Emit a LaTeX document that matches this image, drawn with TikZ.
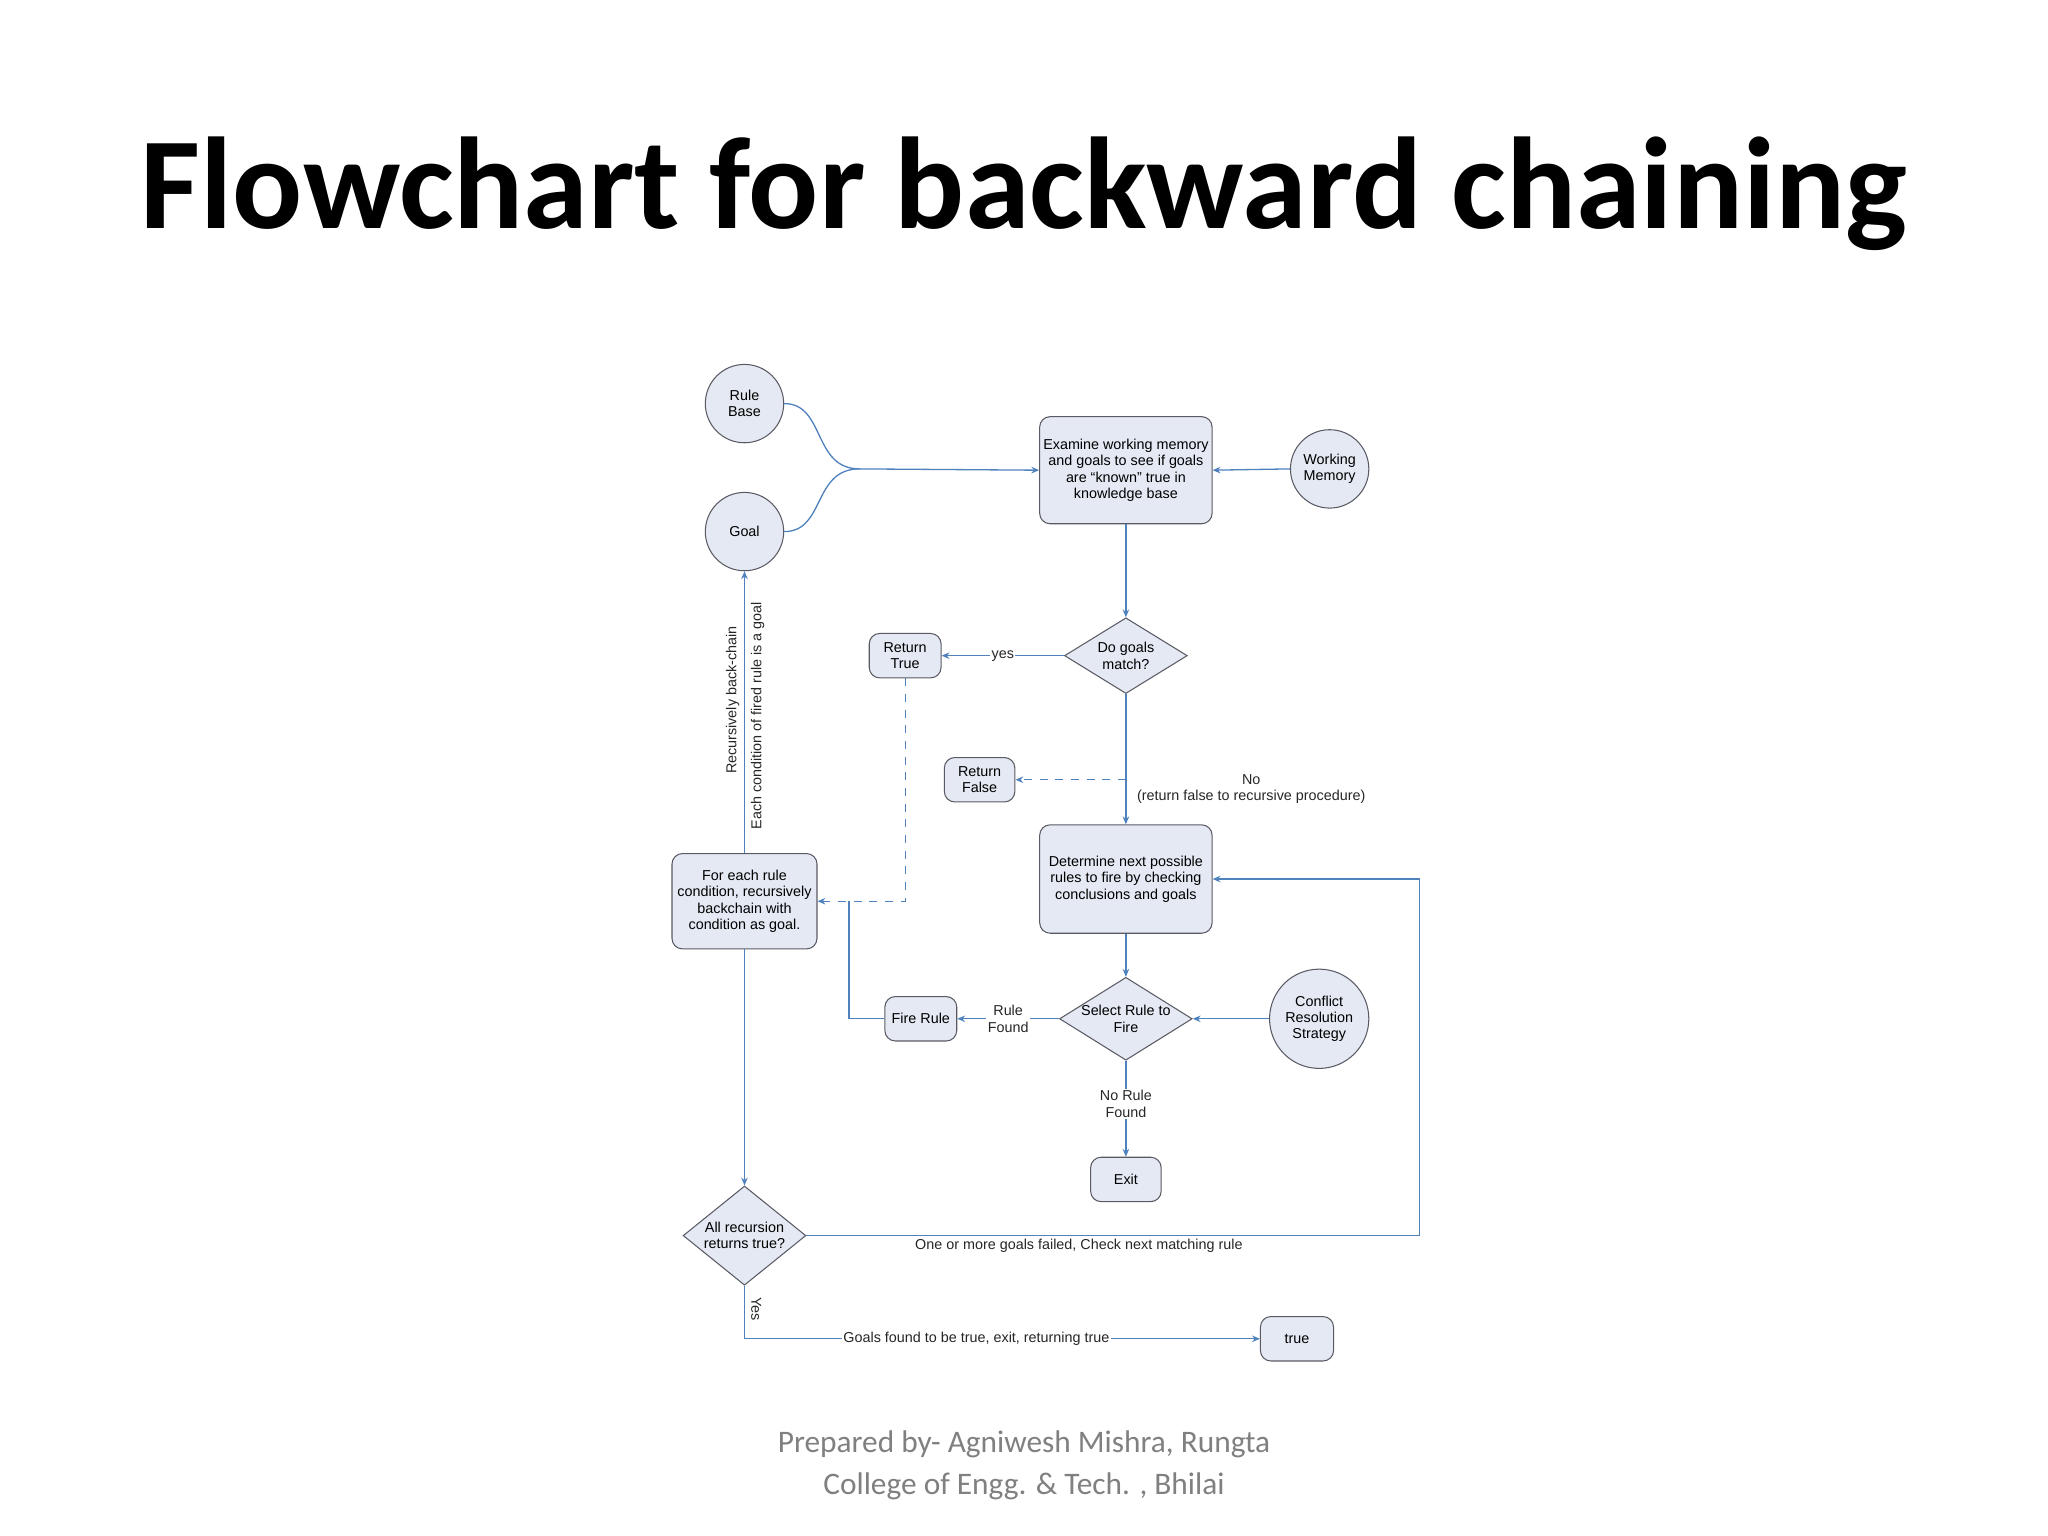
\documentclass[tikz,border=0pt]{standalone}
\usepackage{fontspec}
\setmainfont{Liberation Sans}
\newfontfamily\calfont{Carlito}
\usetikzlibrary{shapes.geometric,arrows.meta}
\definecolor{ln}{RGB}{79,129,189}
\definecolor{fl}{RGB}{228,233,243}
\definecolor{bd}{RGB}{90,90,100}
\tikzset{
 bx/.style={draw=bd,fill=fl,rounded corners=4pt,align=center,font=\fontsize{5.5}{6.3}\selectfont,inner sep=1pt},
 ci/.style={draw=bd,fill=fl,circle,align=center,font=\fontsize{5.5}{6.3}\selectfont,inner sep=0pt},
 di/.style={draw=bd,fill=fl,diamond,aspect=1.6,align=center,font=\fontsize{5.5}{6.3}\selectfont,inner sep=0pt},
 ar/.style={draw=ln,-{Stealth[length=3pt,width=2.5pt]},line width=0.5pt},
 li/.style={draw=ln,line width=0.5pt},
 lb/.style={font=\fontsize{5.5}{6.3}\selectfont,align=center,text=black!85},
}
\begin{document}
\begin{tikzpicture}[x=0.5pt,y=-0.5pt]
\useasboundingbox (0,0) rectangle (1568,1176);
\node[font=\calfont\bfseries\fontsize{50}{60}\selectfont] (title) at (784,148) {Flowchart for backward chaining};
\node[font=\calfont\fontsize{12}{16}\selectfont,text=black!50,align=center] (foot) at (784,1122) {Prepared by- Agniwesh Mishra, Rungta\\College of Engg. \& Tech. , Bhilai};

\node[ci,minimum size=30pt] (rb) at (570,309) {Rule\\Base};
\node[ci,minimum size=30pt] (goal) at (570,407) {Goal};
\node[bx,minimum width=66pt,minimum height=41pt] (ex) at (862,360) {Examine working memory\\and goals to see if goals\\are ``known'' true in\\knowledge base};
\node[ci,minimum size=30pt] (wm) at (1018,359) {Working\\Memory};
\node[di,minimum width=47pt,minimum height=29pt] (dg) at (862,502) {Do goals\\match?};
\node[bx,minimum width=27.5pt,minimum height=17pt] (rt) at (693,502) {Return\\True};
\node[bx,minimum width=27pt,minimum height=17pt] (rf) at (750,597) {Return\\False};
\node[bx,minimum width=66pt,minimum height=41.5pt] (dn) at (862,673) {Determine next possible\\rules to fire by checking\\conclusions and goals};
\node[bx,minimum width=55.5pt,minimum height=36.5pt] (fe) at (570,690) {For each rule\\condition, recursively\\backchain with\\condition as goal.};
\node[di,minimum width=47pt,minimum height=29pt] (sr) at (862,780) {Select Rule to\\Fire};
\node[bx,minimum width=27.5pt,minimum height=17pt] (fr) at (705,780) {Fire Rule};
\node[ci,minimum size=38pt] (cr) at (1010,780) {Conflict\\Resolution\\Strategy};
\node[bx,minimum width=27pt,minimum height=17pt] (exit) at (862,903) {Exit};
\node[di,minimum width=47pt,minimum height=38pt,aspect=1.24] (ar) at (570,946) {All recursion\\returns true?};
\node[bx,minimum width=28pt,minimum height=17pt] (tr) at (993,1025) {true};

\coordinate (m) at (658,359);
\draw[li] (rb.east) .. controls (632,309) and (622,359) .. (m);
\draw[li] (goal.east) .. controls (632,407) and (622,359) .. (m);
\draw[ar] (m) -- (ex.west);
\draw[ar] (wm.west) -- (ex.east);
\draw[ar] (ex.south) -- (dg.north);
\draw[ar] (dg.west) -- node[lb,fill=white,inner sep=0.5pt]{yes} (rt.east);
\draw[ar] (dg.south) -- (dn.north);
\node[lb] (nolab) at (958,604) {No\\(return false to recursive procedure)};
\coordinate (d1) at (862,597);
\draw[ar,dashed] (d1) -- (rf.east);
\coordinate (d2) at (693,690);
\draw[ar,dashed] (rt.south) -- (d2) -- (fe.east);
\draw[ar] (dn.south) -- (sr.north);
\draw[ar] (cr.west) -- (sr.east);
\draw[ar] (sr.west) -- node[lb,fill=white,inner sep=0.5pt]{Rule\\Found} (fr.east);
\coordinate (f1) at (650,780);
\coordinate (f2) at (650,690);
\draw[li] (fr.west) -- (f1) -- (f2);
\draw[ar] (sr.south) -- node[lb,fill=white,inner sep=0.5pt,pos=0.45]{No Rule\\Found} (exit.north);
\draw[ar] (fe.north) -- (goal.south);
\node[lb,rotate=90] (l1) at (561,536) {Recursively back-chain};
\node[lb,rotate=90] (l2) at (580,548) {Each condition of fired rule is a goal};
\draw[ar] (fe.south) -- (ar.north);
\coordinate (r1) at (1087,946);
\coordinate (r2) at (1087,673);
\draw[ar] (ar.east) -- (r1) -- (r2) -- (dn.east);
\node[lb] (l3) at (826,954) {One or more goals failed, Check next matching rule};
\coordinate (y1) at (570,1025);
\draw[ar] (ar.south) -- (y1) -- node[lb,fill=white,inner sep=0.5pt,pos=0.45]{Goals found to be true, exit, returning true} (tr.west);
\node[lb,rotate=-90] (l4) at (579,1002) {Yes};
\end{tikzpicture}
\end{document}
